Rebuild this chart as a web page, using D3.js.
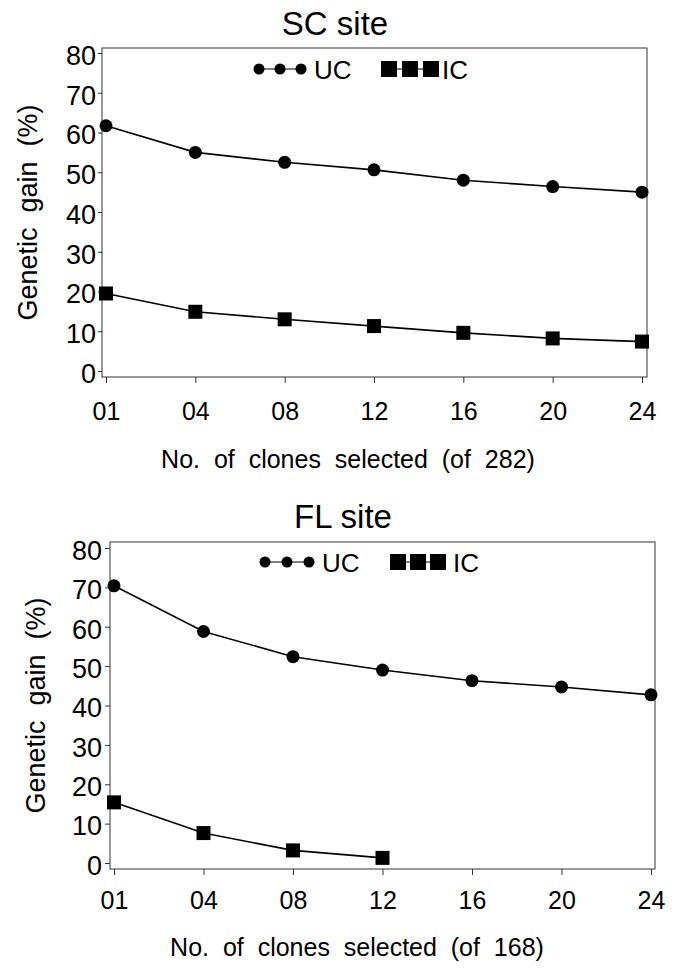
<!DOCTYPE html>
<html>
<head>
<meta charset="utf-8">
<script src="https://cdn.jsdelivr.net/npm/d3@7"></script>
<style>
  body { margin: 0; background: #fff; }
  svg { display: block; font-family: "Liberation Sans", Arial, sans-serif; }
</style>
</head>
<body>
<svg id="chart" width="675" height="969"></svg>
<script>
var clones = ["01", "04", "08", "12", "16", "20", "24"];
var yTicks = [0, 10, 20, 30, 40, 50, 60, 70, 80];

// SC site (of 282)
var scUC = [61.7, 55.0, 52.5, 50.6, 48.0, 46.4, 45.0];
var scIC = [19.5, 14.9, 13.0, 11.3, 9.6, 8.2, 7.4];

// FL site (of 168), IC only goes to 12
var flUC = [70.4, 58.8, 52.4, 49.0, 46.3, 44.7, 42.7];
var flIC = [15.4, 7.6, 3.2, 1.3];

var panels = [
  {
    title: "SC site", xTitle: "No.  of  clones  selected  (of  282)",
    uc: scUC, ic: scIC,
    left: 102, right: 647, top: 48, bottom: 377,
    x0: 106, x1: 642, y0: 371, y80: 53,
    titleX: 335, titleY: 35, xTitleX: 348, xTitleY: 468,
    yTitleX: 37, ytickSize: 4, ytickPad: 2, xtickPad: 19,
    legUC: [259, 280, 301], legIC: [389, 410, 431], legY: 69, ucText: 314, icText: 442
  },
  {
    title: "FL site", xTitle: "No.  of  clones  selected  (of  168)",
    uc: flUC, ic: flIC,
    left: 110, right: 655, top: 542, bottom: 869,
    x0: 114, x1: 651, y0: 863, y80: 548,
    titleX: 343, titleY: 528, xTitleX: 357, xTitleY: 956,
    yTitleX: 45, ytickSize: 5, ytickPad: 3, xtickPad: 16,
    legUC: [265, 287, 309], legIC: [398, 418, 438], legY: 562, ucText: 322, icText: 453
  }
];

var svg = d3.select("#chart");

var drawPanel = function(p) {
  var g, x, y, line, xAxis, yAxis, leg;
  g = svg.append("g");
  x = d3.scalePoint().domain(clones).range([p.x0, p.x1]);
  y = d3.scaleLinear().domain([0, 80]).range([p.y0, p.y80]);

  g.append("rect")
    .attr("x", p.left).attr("y", p.top)
    .attr("width", p.right - p.left).attr("height", p.bottom - p.top)
    .style("fill", "none").style("stroke", "#333").style("stroke-width", 1);

  xAxis = d3.axisBottom(x).tickSize(6).tickSizeOuter(0).tickPadding(p.xtickPad);
  g.append("g").attr("transform", "translate(0," + p.bottom + ")").call(xAxis)
    .call(function(a) { a.select(".domain").remove(); })
    .call(function(a) {
      a.selectAll("line").style("stroke", "#333");
      a.selectAll("text").style("font-size", "25px").style("fill", "#000").style("font-family", null);
    });

  yAxis = d3.axisLeft(y).tickValues(yTicks).tickSize(p.ytickSize).tickSizeOuter(0).tickPadding(p.ytickPad);
  g.append("g").attr("transform", "translate(" + p.left + ",0)").call(yAxis)
    .call(function(a) { a.select(".domain").remove(); })
    .call(function(a) {
      a.selectAll("line").style("stroke", "#333");
      a.selectAll("text").attr("dy", "0.42em").style("font-size", "27px").style("fill", "#000").style("font-family", null);
    });

  g.append("text").attr("x", p.titleX).attr("y", p.titleY)
    .attr("text-anchor", "middle").style("font-size", "33px").text(p.title);

  g.append("text").attr("x", p.xTitleX).attr("y", p.xTitleY)
    .attr("text-anchor", "middle").style("font-size", "25px").style("white-space", "pre")
    .text(p.xTitle);

  g.append("text")
    .attr("transform", "translate(" + p.yTitleX + "," + ((p.top + p.bottom) / 2) + ") rotate(-90)")
    .attr("text-anchor", "middle").style("font-size", "27px").style("white-space", "pre")
    .text("Genetic  gain  (%)");

  line = d3.line().x(function(d, i) { return x(clones[i]); }).y(function(d) { return y(d); });

  g.append("path").datum(p.uc).attr("d", line)
    .style("fill", "none").style("stroke", "#000").style("stroke-width", 1.6);
  g.append("path").datum(p.ic).attr("d", line)
    .style("fill", "none").style("stroke", "#000").style("stroke-width", 1.6);

  g.selectAll("circle.uc").data(p.uc).enter().append("circle").attr("class", "uc")
    .attr("cx", function(d, i) { return x(clones[i]); })
    .attr("cy", function(d) { return y(d); })
    .attr("r", 6.5).style("fill", "#000");

  g.selectAll("rect.ic").data(p.ic).enter().append("rect").attr("class", "ic")
    .attr("x", function(d, i) { return x(clones[i]) - 7; })
    .attr("y", function(d) { return y(d) - 7; })
    .attr("width", 14).attr("height", 14).style("fill", "#000");

  // legend
  leg = g.append("g");
  leg.append("line").attr("x1", p.legUC[0]).attr("x2", p.legUC[2])
    .attr("y1", p.legY).attr("y2", p.legY).style("stroke", "#000").style("stroke-width", 1.2);
  leg.selectAll("circle").data(p.legUC).enter().append("circle")
    .attr("cx", function(d) { return d; }).attr("cy", p.legY).attr("r", 5.5).style("fill", "#000");
  leg.append("text").attr("x", p.ucText).attr("y", p.legY + 10)
    .style("font-size", "26px").text("UC");

  leg.append("line").attr("x1", p.legIC[0]).attr("x2", p.legIC[2])
    .attr("y1", p.legY).attr("y2", p.legY).style("stroke", "#000").style("stroke-width", 1.2);
  leg.selectAll("rect").data(p.legIC).enter().append("rect")
    .attr("x", function(d) { return d - 8; }).attr("y", p.legY - 8)
    .attr("width", 16).attr("height", 16).style("fill", "#000");
  leg.append("text").attr("x", p.icText).attr("y", p.legY + 10)
    .style("font-size", "26px").text("IC");
};

panels.forEach(drawPanel);
</script>
</body>
</html>
